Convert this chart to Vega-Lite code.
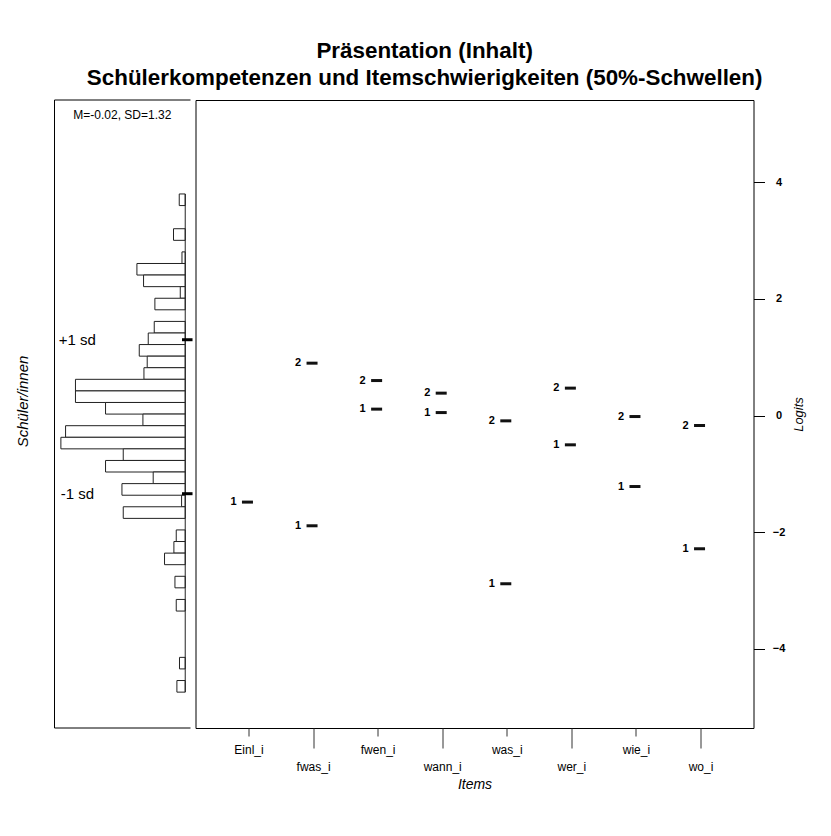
{
  "$schema": "https://vega.github.io/schema/vega-lite/v6.json",
  "padding": {"left": 14.5, "top": 40, "right": 5, "bottom": 5},
  "background": "white",
  "config": {
    "font": "Liberation Sans",
    "axis": {"labelColor": "#000", "titleColor": "#000", "tickColor": "#000", "domainColor": "#000", "grid": false},
    "view": {"stroke": "#000"}
  },
  "title": {
    "text": ["Präsentation (Inhalt)", "Schülerkompetenzen und Itemschwierigkeiten (50%-Schwellen)"],
    "fontSize": 22.4, "fontWeight": "bold", "lineHeight": 27, "offset": 10, "anchor": "middle", "color": "#000", "dx": 14
  },
  "spacing": 0,
  "hconcat": [
    {
      "width": 136,
      "height": 628,
      "view": {"stroke": null},
      "layer": [
        {
          "data": {"values": [
            {"hi": 3.799, "lo": 3.600, "n": 0.46},
            {"hi": 3.203, "lo": 3.004, "n": 0.90},
            {"hi": 2.806, "lo": 2.607, "n": 0.25},
            {"hi": 2.607, "lo": 2.409, "n": 3.71},
            {"hi": 2.409, "lo": 2.210, "n": 3.20},
            {"hi": 2.210, "lo": 2.011, "n": 0.38},
            {"hi": 2.011, "lo": 1.813, "n": 2.33},
            {"hi": 1.614, "lo": 1.415, "n": 2.38},
            {"hi": 1.415, "lo": 1.217, "n": 2.84},
            {"hi": 1.217, "lo": 1.018, "n": 3.53},
            {"hi": 1.018, "lo": 0.820, "n": 2.92},
            {"hi": 0.820, "lo": 0.621, "n": 3.17},
            {"hi": 0.621, "lo": 0.422, "n": 8.43},
            {"hi": 0.422, "lo": 0.224, "n": 8.43},
            {"hi": 0.224, "lo": 0.025, "n": 6.12},
            {"hi": 0.025, "lo": -0.174, "n": 3.25},
            {"hi": -0.174, "lo": -0.373, "n": 9.19},
            {"hi": -0.373, "lo": -0.571, "n": 9.55},
            {"hi": -0.571, "lo": -0.770, "n": 4.76},
            {"hi": -0.770, "lo": -0.968, "n": 6.12},
            {"hi": -0.968, "lo": -1.167, "n": 2.46},
            {"hi": -1.167, "lo": -1.366, "n": 4.86},
            {"hi": -1.366, "lo": -1.564, "n": 0.28},
            {"hi": -1.564, "lo": -1.763, "n": 4.76},
            {"hi": -1.961, "lo": -2.160, "n": 0.69},
            {"hi": -2.160, "lo": -2.359, "n": 0.87},
            {"hi": -2.359, "lo": -2.557, "n": 1.59},
            {"hi": -2.756, "lo": -2.954, "n": 0.79},
            {"hi": -3.153, "lo": -3.352, "n": 0.69},
            {"hi": -4.146, "lo": -4.344, "n": 0.44},
            {"hi": -4.543, "lo": -4.742, "n": 0.64}
          ]},
          "mark": {"type": "rect", "fill": "white", "stroke": "#222", "strokeWidth": 1},
          "encoding": {
            "x": {"field": "n", "type": "quantitative", "scale": {"domain": [-0.405, 10.04], "reverse": true, "nice": false, "zero": false}, "axis": null},
            "x2": {"datum": 0},
            "y": {"field": "lo", "type": "quantitative", "scale": {"domain": [-5.357, 5.41], "nice": false, "zero": false},
                  "axis": {"title": "Schüler/innen", "labels": false, "ticks": false, "domain": false, "grid": false,
                           "titleFontStyle": "italic", "titleFontWeight": "normal", "titleFontSize": 15, "titlePadding": 24.5, "titleY": 301}},
            "y2": {"field": "hi"}
          }
        },
        {
          "data": {"values": [{}]},
          "mark": {"type": "rule", "color": "#222", "strokeWidth": 1},
          "encoding": {"x": {"datum": 0, "type": "quantitative"}, "y": {"datum": 3.799, "type": "quantitative"}, "y2": {"datum": -4.742}}
        },
        {
          "data": {"values": [{"v": 1.30, "lab": "+1 sd"}, {"v": -1.34, "lab": "-1 sd"}]},
          "layer": [
            {
              "mark": {"type": "rule", "color": "#000", "strokeWidth": 3},
              "encoding": {"x": {"datum": 0.25, "type": "quantitative"}, "x2": {"datum": -0.56}, "y": {"field": "v", "type": "quantitative"}}
            },
            {
              "mark": {"type": "text", "fontSize": 15, "color": "#000", "align": "center", "baseline": "middle"},
              "encoding": {"x": {"datum": 8.28, "type": "quantitative"}, "y": {"field": "v", "type": "quantitative"}, "text": {"field": "lab"}}
            }
          ]
        },
        {
          "data": {"values": [{"lab": "M=-0.02, SD=1.32"}]},
          "mark": {"type": "text", "fontSize": 12, "color": "#000", "align": "center", "baseline": "middle"},
          "encoding": {"x": {"datum": 4.83, "type": "quantitative"}, "y": {"datum": 5.15, "type": "quantitative"}, "text": {"field": "lab"}}
        },
        {
          "data": {"values": [{}]},
          "mark": {"type": "rule", "color": "#000", "strokeWidth": 1},
          "encoding": {"x": {"datum": 10.04, "type": "quantitative"}, "x2": {"datum": -0.405}, "y": {"datum": 5.41, "type": "quantitative"}}
        },
        {
          "data": {"values": [{}]},
          "mark": {"type": "rule", "color": "#000", "strokeWidth": 1},
          "encoding": {"x": {"datum": 10.04, "type": "quantitative"}, "x2": {"datum": -0.405}, "y": {"datum": -5.357, "type": "quantitative"}}
        },
        {
          "data": {"values": [{}]},
          "mark": {"type": "rule", "color": "#000", "strokeWidth": 1},
          "encoding": {"x": {"datum": 10.04, "type": "quantitative"}, "y": {"datum": 5.41, "type": "quantitative"}, "y2": {"datum": -5.357}}
        }
      ]
    },
    {
      "width": 558,
      "height": 628,
      "view": {"stroke": "#000", "strokeWidth": 1},
      "data": {"values": [
        {"item": "Einl_i", "thr": "1", "logit": -1.484},
        {"item": "fwas_i", "thr": "2", "logit": 0.898},
        {"item": "fwas_i", "thr": "1", "logit": -1.890},
        {"item": "fwen_i", "thr": "2", "logit": 0.600},
        {"item": "fwen_i", "thr": "1", "logit": 0.110},
        {"item": "wann_i", "thr": "2", "logit": 0.384},
        {"item": "wann_i", "thr": "1", "logit": 0.051},
        {"item": "was_i", "thr": "2", "logit": -0.091},
        {"item": "was_i", "thr": "1", "logit": -2.884},
        {"item": "wer_i", "thr": "2", "logit": 0.470},
        {"item": "wer_i", "thr": "1", "logit": -0.502},
        {"item": "wie_i", "thr": "2", "logit": -0.017},
        {"item": "wie_i", "thr": "1", "logit": -1.217},
        {"item": "wo_i", "thr": "2", "logit": -0.171},
        {"item": "wo_i", "thr": "1", "logit": -2.284}
      ]},
      "encoding": {
        "x": {
          "field": "item", "type": "nominal",
          "sort": ["Einl_i", "fwas_i", "fwen_i", "wann_i", "was_i", "wer_i", "wie_i", "wo_i"],
          "scale": {"type": "point", "padding": 0.82},
          "axis": {
            "title": "Items", "titleFontStyle": "italic", "titleFontWeight": "normal", "titleFontSize": 14, "titlePadding": 5,
            "labelAngle": 0, "labelFontSize": 12, "domain": false, "tickColor": "#333",
            "tickSize": {"condition": {"test": "indexof(['fwas_i','wann_i','wer_i','wo_i'], datum.value) >= 0", "value": 20}, "value": 8},
            "labelPadding": {"condition": {"test": "indexof(['fwas_i','wann_i','wer_i','wo_i'], datum.value) >= 0", "value": 13}, "value": 8}
          }
        },
        "y": {
          "field": "logit", "type": "quantitative",
          "scale": {"domain": [-5.357, 5.41], "nice": false, "zero": false},
          "axis": {
            "orient": "right", "values": [-4, -2, 0, 2, 4], "title": "Logits",
            "tickSize": 11, "labelAlign": "center", "labelPadding": 14, "labelFontWeight": "bold", "labelFontSize": 11,
            "labelBaseline": "middle", "domain": false,
            "titleAngle": 270, "titleFontStyle": "italic", "titleFontWeight": "normal", "titleFontSize": 13, "titlePadding": 21
          }
        }
      },
      "layer": [
        {"mark": {"type": "tick", "orient": "horizontal", "size": 11, "thickness": 3, "color": "#111", "opacity": 1, "xOffset": -1}},
        {"mark": {"type": "text", "dx": -15, "fontWeight": "bold", "fontSize": 11, "color": "#000", "baseline": "middle"},
         "encoding": {"text": {"field": "thr"}}}
      ]
    }
  ]
}
